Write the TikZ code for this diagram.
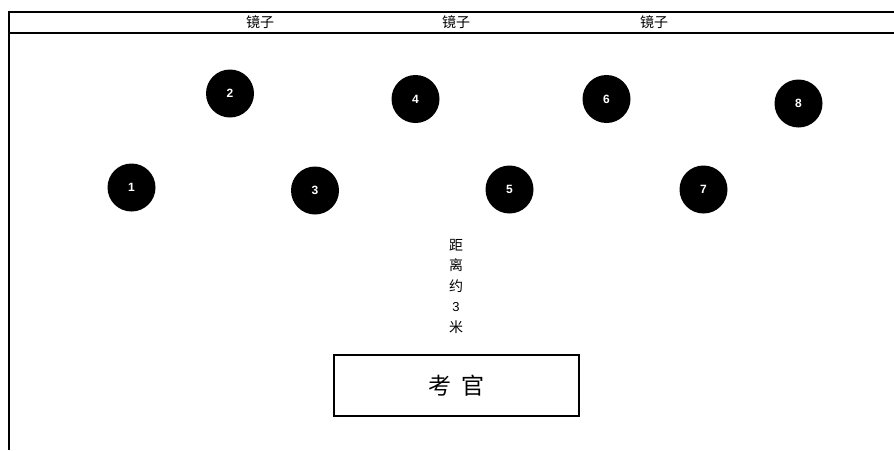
\documentclass[tikz,border=0pt]{standalone}
\usepackage{fontspec}
\newfontfamily\cjk{Noto Sans CJK SC}
\setsansfont{Liberation Sans}
\begin{document}
\begin{tikzpicture}[x=1pt,y=-1pt,
  seat/.style={circle,fill=black,minimum size=48pt,inner sep=0pt,text=white,font=\sffamily\bfseries\fontsize{12}{14}\selectfont},
  mirror/.style={font=\cjk\fontsize{14}{16}\selectfont,inner sep=0pt},
  frame/.style={draw=black,line width=1.5pt}]
\useasboundingbox (0,0) rectangle (894,450);
\draw[line width=1.3pt] (9,12) -- (894,12);
\draw[frame] (9,33) -- (894,33);
\draw[frame] (9,11.35) -- (9,450);
\node[mirror] (m1) at (260,22.5) {镜子};
\node[mirror] (m2) at (456,22.5) {镜子};
\node[mirror] (m3) at (654,22.5) {镜子};
\node[seat] (s1) at (131.5,187.5) {1};
\node[seat] (s2) at (230,93.5) {2};
\node[seat] (s3) at (315,190.5) {3};
\node[seat] (s4) at (415.5,99) {4};
\node[seat] (s5) at (509.5,189.5) {5};
\node[seat] (s6) at (606.5,99) {6};
\node[seat] (s7) at (703.5,189.5) {7};
\node[seat] (s8) at (798.5,103.5) {8};
\node[font=\cjk\fontsize{14}{20.5}\selectfont,align=center,inner sep=0pt] (d) at (456,286) {距\\离\\约\\{\sffamily\fontsize{13}{20}\selectfont 3}\\米};
\node[draw=black,line width=1.5pt,minimum width=245pt,minimum height=61pt,inner sep=0pt,font=\cjk\fontsize{23}{26}\selectfont] (k) at (456.5,385.5) {考\hspace{0.45em}官};
\end{tikzpicture}
\end{document}
